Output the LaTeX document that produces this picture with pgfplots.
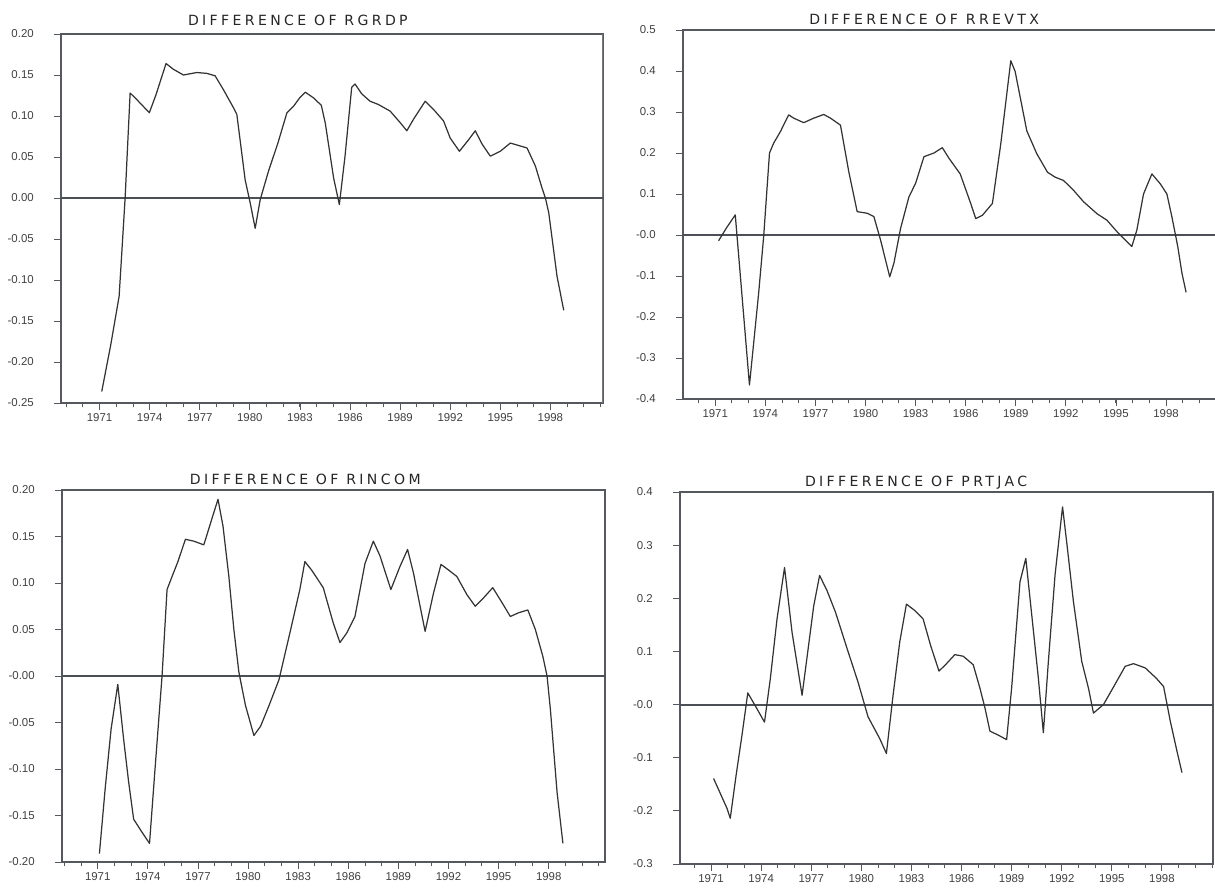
\documentclass[border=0pt]{standalone}
\usepackage{fontspec}
\setmainfont{Liberation Sans}
\newfontfamily\titlefont[LetterSpace=24]{DejaVu Sans}
\usepackage{pgfplots}
\pgfplotsset{compat=1.18}

\definecolor{ink}{HTML}{333333}
\definecolor{framec}{HTML}{55585E}

\pgfplotsset{
  panel/.style={
    scale only axis,
    anchor=south west,
    axis line style={framec, line width=0.6pt},
    tick pos=left,
    tick align=outside,
    major tick length=4pt,
    minor tick length=2.5pt,
    every tick/.style={framec, line width=0.5pt},
    xtick={1971,1974,...,1998},
    xticklabels={1971,1974,1977,1980,1983,1986,1989,1992,1995,1998},
    minor xtick={1969,...,2001},
    tick label style={font=\fontsize{6.5}{7}\selectfont, text=black!75},
    yticklabel style={anchor=east, xshift=-8pt},
    xticklabel style={yshift=1.8pt},
    title style={font=\titlefont\fontsize{8}{9}\selectfont, anchor=base, text=black!85},
  },
  series/.style={ink, line width=0.7pt, line join=round},
  zero/.style={framec!90!black, line width=0.85pt, forget plot},
}

\begin{document}
\begin{tikzpicture}
\path[use as bounding box] (0,0) rectangle (24.3cm,17.78cm);
\clip (0,0) rectangle (24.3cm,17.78cm);

% ---- RGRDP ----
\begin{axis}[panel, at={(1.22cm,9.72cm)}, width=10.84cm, height=7.38cm,
  xmin=1968.69, xmax=2001.15, ymin=-0.25, ymax=0.20,
  ytick={-0.25,-0.20,...,0.21},
  yticklabels={-0.25,-0.20,-0.15,-0.10,-0.05,0.00,0.05,0.10,0.15,0.20},
  title={DIFFERENCE OF RGRDP}, title style={at={(0.437,1)}, yshift=-0.9pt}]
\draw[framec!80, line width=1.6pt] (rel axis cs:1,0) -- (rel axis cs:1,1);
\addplot[zero] coordinates {(1960,0) (2010,0)};
\addplot[series] coordinates {
(1971.13,-0.236) (1971.67,-0.179) (1972.17,-0.12) (1972.33,-0.067) (1972.53,0.0)
(1972.83,0.128) (1973.23,0.12) (1973.98,0.104) (1974.38,0.126) (1974.98,0.164)
(1975.42,0.157) (1976.02,0.150) (1976.82,0.153) (1977.42,0.152) (1977.92,0.149)
(1978.42,0.132) (1979.02,0.110) (1979.22,0.102) (1979.72,0.022) (1980.02,-0.006)
(1980.32,-0.037) (1980.62,-0.002) (1981.12,0.033) (1981.68,0.067) (1982.22,0.104)
(1982.62,0.112) (1982.98,0.122) (1983.32,0.129) (1983.82,0.122) (1984.28,0.113)
(1984.52,0.091) (1985.02,0.024) (1985.36,-0.008) (1985.7,0.051) (1986.1,0.135)
(1986.3,0.139) (1986.7,0.127) (1987.2,0.118) (1987.7,0.114) (1988.4,0.106)
(1989.0,0.092) (1989.4,0.082) (1989.8,0.096) (1990.5,0.118) (1991.0,0.108)
(1991.6,0.094) (1992.0,0.073) (1992.55,0.057) (1993.1,0.071) (1993.5,0.082)
(1993.9,0.066) (1994.4,0.051) (1995.0,0.057) (1995.6,0.067) (1996.6,0.061)
(1997.1,0.039) (1997.5,0.012) (1997.7,0.0) (1997.9,-0.018) (1998.4,-0.096)
(1998.8,-0.137)};
\end{axis}

% ---- RREVTX ----
\begin{axis}[panel, at={(13.66cm,9.80cm)}, width=10.84cm, height=7.38cm,
  xmin=1969.07, xmax=2001.53, ymin=-0.4, ymax=0.5,
  ytick={-0.4,-0.3,...,0.51},
  yticklabels={-0.4,-0.3,-0.2,-0.1,-0.0,0.1,0.2,0.3,0.4,0.5},
  title={DIFFERENCE OF RREVTX}, title style={at={(0.445,1)}, yshift=-2.6pt}]
\addplot[zero] coordinates {(1960,0) (2010,0)};
\addplot[series] coordinates {
(1971.2,-0.014) (1971.7,0.019) (1972.2,0.049) (1973.05,-0.366) (1973.6,-0.142)
(1973.9,-0.004) (1974.25,0.2) (1974.5,0.224) (1974.9,0.252) (1975.4,0.293)
(1975.7,0.285) (1976.3,0.274) (1976.9,0.285) (1977.5,0.294) (1977.9,0.285)
(1978.5,0.268) (1979.0,0.154) (1979.5,0.057) (1980.1,0.053) (1980.5,0.045)
(1980.9,-0.012) (1981.45,-0.102) (1981.7,-0.069) (1982.1,0.016) (1982.6,0.093)
(1983.0,0.126) (1983.5,0.191) (1984.1,0.2) (1984.6,0.213) (1985.0,0.187)
(1985.67,0.149) (1986.3,0.077) (1986.6,0.04) (1987.0,0.048) (1987.6,0.077)
(1988.1,0.222) (1988.7,0.425) (1988.96,0.399) (1989.66,0.254) (1990.26,0.198)
(1990.9,0.153) (1991.36,0.141) (1991.86,0.133) (1992.46,0.109) (1993.06,0.081)
(1993.86,0.052) (1994.46,0.036) (1995.15,0.004) (1995.95,-0.028) (1996.25,0.012)
(1996.65,0.1) (1997.15,0.149) (1997.65,0.125) (1998.05,0.1) (1998.35,0.044)
(1998.7,-0.028) (1998.95,-0.093) (1999.2,-0.14)};
\end{axis}

% ---- RINCOM ----
\begin{axis}[panel, at={(1.24cm,0.54cm)}, width=10.86cm, height=7.44cm,
  xmin=1968.86, xmax=2001.37, ymin=-0.20, ymax=0.20,
  ytick={-0.20,-0.15,...,0.21},
  yticklabels={-0.20,-0.15,-0.10,-0.05,-0.00,0.05,0.10,0.15,0.20},
  title={DIFFERENCE OF RINCOM}, title style={at={(0.448,1)}, yshift=-2.6pt}]
\addplot[zero] coordinates {(1960,0) (2010,0)};
\addplot[series] coordinates {
(1971.1,-0.191) (1971.45,-0.12) (1971.8,-0.057) (1972.2,-0.009) (1972.55,-0.068)
(1972.85,-0.114) (1973.15,-0.154) (1973.65,-0.168) (1974.1,-0.18) (1974.4,-0.107)
(1974.85,0.0) (1975.15,0.093) (1975.45,0.107) (1975.8,0.123) (1976.25,0.147)
(1976.75,0.145) (1977.35,0.141) (1977.85,0.17) (1978.2,0.19) (1978.5,0.161)
(1978.85,0.107) (1979.15,0.05) (1979.45,0.004) (1979.85,-0.032) (1980.35,-0.064)
(1980.75,-0.054) (1981.25,-0.032) (1981.85,-0.004) (1982.5,0.046) (1983.1,0.093)
(1983.4,0.123) (1983.8,0.114) (1984.5,0.095) (1985.1,0.057) (1985.5,0.036)
(1985.9,0.046) (1986.4,0.064) (1987.0,0.121) (1987.5,0.145) (1987.9,0.129)
(1988.55,0.093) (1989.1,0.118) (1989.55,0.136) (1989.9,0.111) (1990.6,0.048)
(1991.1,0.089) (1991.55,0.12) (1992.0,0.114) (1992.5,0.107) (1993.1,0.0875)
(1993.6,0.075) (1994.1,0.084) (1994.65,0.095) (1995.2,0.079) (1995.7,0.064)
(1996.2,0.068) (1996.75,0.071) (1997.2,0.05) (1997.65,0.021) (1997.9,0.0)
(1998.1,-0.036) (1998.5,-0.125) (1998.85,-0.18)};
\end{axis}

% ---- PRTJAC ----
\begin{axis}[panel, at={(13.6cm,0.5cm)}, width=10.66cm, height=7.44cm,
  xmin=1969.14, xmax=2001.06, ymin=-0.3, ymax=0.4,
  ytick={-0.3,-0.2,...,0.41},
  yticklabels={-0.3,-0.2,-0.1,-0.0,0.1,0.2,0.3,0.4},
  title={DIFFERENCE OF PRTJAC}, title style={at={(0.443,1)}, yshift=-2.6pt}]
\addplot[zero, line width=1.1pt] coordinates {(1960,0) (2010,0)};
\addplot[series] coordinates {
(1971.15,-0.139) (1971.95,-0.195) (1972.15,-0.214) (1972.5,-0.133) (1972.85,-0.058)
(1973.2,0.022) (1973.75,-0.008) (1974.2,-0.033) (1974.55,0.049) (1974.95,0.161)
(1975.4,0.258) (1975.85,0.136) (1976.45,0.0175) (1977.15,0.186) (1977.5,0.243)
(1977.95,0.214) (1978.45,0.174) (1979.15,0.105) (1979.8,0.0425) (1980.4,-0.023)
(1981.1,-0.064) (1981.5,-0.092) (1981.9,0.0175) (1982.3,0.118) (1982.7,0.189)
(1983.2,0.177) (1983.7,0.161) (1984.15,0.111) (1984.65,0.063) (1985.1,0.077)
(1985.6,0.094) (1986.1,0.091) (1986.7,0.075) (1987.1,0.031) (1987.4,-0.006)
(1987.7,-0.05) (1988.2,-0.0575) (1988.7,-0.066) (1989.0,0.031) (1989.5,0.231)
(1989.85,0.275) (1990.6,0.05) (1990.9,-0.053) (1991.2,0.081) (1991.6,0.244)
(1992.05,0.372) (1992.3,0.305) (1992.7,0.194) (1993.2,0.081) (1993.6,0.031)
(1993.9,-0.016) (1994.5,0.0) (1995.1,0.033) (1995.8,0.072) (1996.3,0.077)
(1997.0,0.069) (1997.65,0.05) (1998.1,0.034) (1998.5,-0.031) (1998.9,-0.0875)
(1999.2,-0.128)};
\end{axis}
\end{tikzpicture}
\end{document}
